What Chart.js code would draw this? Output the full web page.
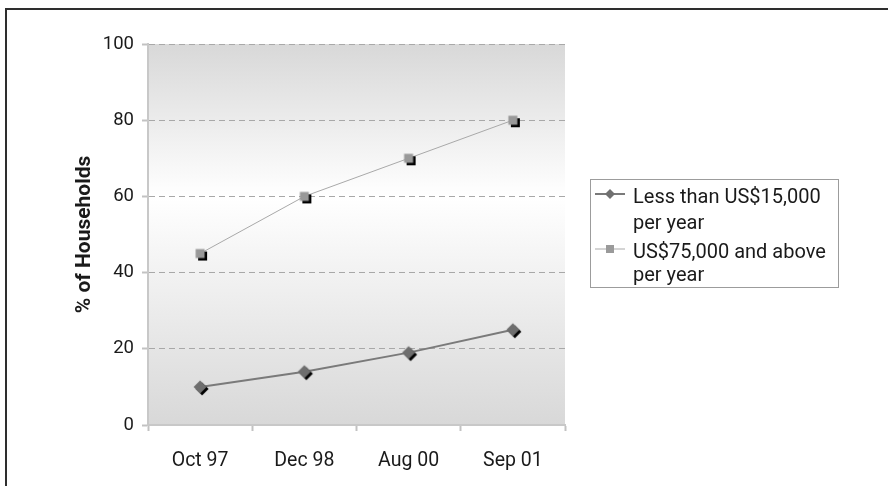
<!DOCTYPE html>
<html>
<head>
<meta charset="utf-8">
<script src="https://cdn.jsdelivr.net/npm/chart.js@4"></script>
<style>
  html, body { margin: 0; padding: 0; background: #fff; overflow: hidden; }
  #wrap { position: relative; width: 888px; height: 486px; }
  #frame { position: absolute; left: 5px; top: 8px; width: 900px; height: 500px;
           border-left: 2px solid #2e2e2e; border-top: 2px solid #2e2e2e; box-sizing: border-box; }
  canvas { position: absolute; left: 0; top: 0; }
</style>
</head>
<body>
<div id="wrap">
  <div id="frame"></div>
  <canvas id="chart" width="888" height="486"></canvas>
</div>
<script>
// Survey dates and share of households (%) in each income group
const categories = ['Oct 97', 'Dec 98', 'Aug 00', 'Sep 01'];
const lowIncome = [10, 14, 19, 25];
const highIncome = [45, 60, 70, 80];
const seriesLabels = [
  ['Less than US$15,000', 'per year'],
  ['US$75,000 and above', 'per year']
];
const yTicks = { min: 0, max: 100, step: 20 };
const yTitle = '% of Households';

const FONT = 'Roboto, "DejaVu Sans", sans-serif';
const TEXT = '#1a1a1a';

// Marker bitmap: a black copy offset down-right, with the coloured shape on top
function makeMarker(shape, half, fill, off) {
  const c = document.createElement('canvas');
  c.width = 26; c.height = 26;
  const g = c.getContext('2d');
  const path = (cx, cy) => {
    g.beginPath();
    if (shape === 'diamond') {
      g.moveTo(cx, cy - half); g.lineTo(cx + half, cy);
      g.lineTo(cx, cy + half); g.lineTo(cx - half, cy);
      g.closePath();
    } else {
      g.rect(cx - half, cy - half, half * 2, half * 2);
    }
  };
  g.fillStyle = '#000'; path(13 + off, 13 + off); g.fill();
  g.fillStyle = fill; path(13, 13); g.fill();
  return c;
}

const diamondMarker = makeMarker('diamond', 6.5, '#6e6e6e', 2);
const squareMarker = makeMarker('square', 4.5, '#999999', 2.5);

// Grey-white-grey vertical wash behind the plot
const plotBackground = {
  id: 'plotBackground',
  beforeDraw(chart) {
    const { ctx, chartArea: a } = chart;
    const g = ctx.createLinearGradient(0, a.top, 0, a.bottom);
    g.addColorStop(0, '#d8d8d8');
    g.addColorStop(0.4, '#ffffff');
    g.addColorStop(1, '#d8d8d8');
    ctx.save();
    ctx.fillStyle = g;
    ctx.fillRect(a.left, a.top, a.width, a.height);
    ctx.restore();
  }
};

// Boxed legend with wrapped labels to the right of the plot
const boxLegend = {
  id: 'boxLegend',
  afterDraw(chart, args, o) {
    const ctx = chart.ctx;
    ctx.save();
    ctx.fillStyle = '#fff';
    ctx.fillRect(o.left, o.top, o.width, o.height);
    ctx.strokeStyle = '#9c9c9c';
    ctx.lineWidth = 1;
    ctx.strokeRect(o.left + 0.5, o.top + 0.5, o.width, o.height);
    chart.data.datasets.forEach((ds, i) => {
      const sy = o.swatchY[i];
      ctx.strokeStyle = ds.borderColor;
      ctx.lineWidth = ds.borderWidth;
      ctx.beginPath();
      ctx.moveTo(o.left + 5, sy);
      ctx.lineTo(o.left + 35, sy);
      ctx.stroke();
      const cx = o.left + 20;
      ctx.fillStyle = ds.legendMarkerColor;
      ctx.beginPath();
      if (i === 0) {
        ctx.moveTo(cx, sy - 5); ctx.lineTo(cx + 5, sy);
        ctx.lineTo(cx, sy + 5); ctx.lineTo(cx - 5, sy);
        ctx.closePath();
      } else {
        ctx.rect(cx - 4, sy - 4, 8, 8);
      }
      ctx.fill();
      ctx.font = o.font;
      ctx.fillStyle = TEXT;
      ctx.textBaseline = 'alphabetic';
      seriesLabels[i].forEach((t, j) => {
        ctx.fillText(t, o.left + 43, o.baselines[i][j]);
      });
    });
    ctx.restore();
  }
};

new Chart(document.getElementById('chart'), {
  type: 'line',
  data: {
    labels: categories,
    datasets: [
      {
        label: seriesLabels[0].join(' '),
        data: lowIncome,
        borderColor: '#7a7a7a',
        borderWidth: 2,
        pointStyle: diamondMarker,
        legendMarkerColor: '#707070',
        tension: 0
      },
      {
        label: seriesLabels[1].join(' '),
        data: highIncome,
        borderColor: '#a9a9a9',
        borderWidth: 1,
        pointStyle: squareMarker,
        legendMarkerColor: '#9a9a9a',
        tension: 0
      }
    ]
  },
  options: {
    responsive: false,
    animation: false,
    events: [],
    layout: { padding: { left: 0, right: 323, top: 44, bottom: 0 } },
    plugins: {
      legend: { display: false },
      tooltip: { enabled: false },
      boxLegend: {
        left: 590, top: 179, width: 248, height: 108,
        font: '20px ' + FONT,
        swatchY: [194, 249],
        baselines: [[203, 229], [258, 281]]
      }
    },
    scales: {
      x: {
        offset: true,
        grid: { offset: true, drawOnChartArea: false, tickLength: 6, tickColor: '#c2c2c2', tickWidth: 2 },
        border: { color: '#c8c8c8', width: 2 },
        ticks: { font: { family: FONT, size: 19.5 }, color: TEXT, padding: 18 },
        afterFit(s) { s.height = 61; }
      },
      y: {
        min: yTicks.min,
        max: yTicks.max,
        ticks: { stepSize: yTicks.step, font: { family: FONT, size: 18.5 }, color: TEXT, padding: 8 },
        grid: { color: '#a8a8a8', lineWidth: 1, tickLength: 6, tickColor: '#c2c2c2', tickWidth: 2, tickBorderDash: [] },
        border: { color: '#c8c8c8', width: 2, dash: [6, 4] },
        title: {
          display: true, text: yTitle, color: TEXT,
          font: { family: FONT, size: 21, weight: 'bold' },
          padding: { top: 72, bottom: 0 }
        },
        afterFit(s) { s.width = 148; }
      }
    }
  },
  plugins: [plotBackground, boxLegend]
});
</script>
</body>
</html>
